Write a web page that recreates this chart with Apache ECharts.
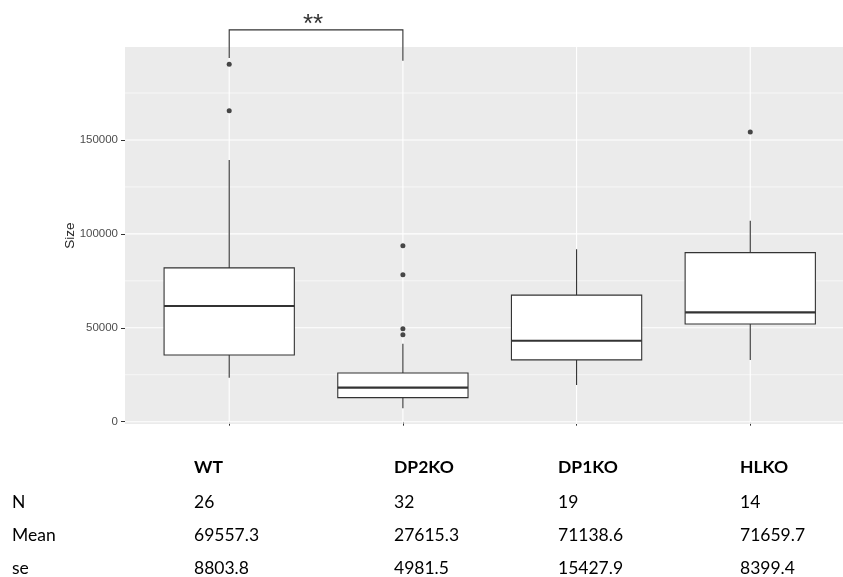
<!DOCTYPE html>
<html>
<head>
<meta charset="utf-8">
<script src="https://cdn.jsdelivr.net/npm/echarts@6/dist/echarts.min.js"></script>
<style>
  html, body { margin: 0; padding: 0; background: #ffffff; }
  #chart { width: 843px; height: 577px; }
</style>
</head>
<body>
<div id="chart"></div>
<script>
// Groups and box statistics (Size)
const categories = ['WT', 'DP2KO', 'DP1KO', 'HLKO'];
const whiskerLow = [23400, 7100, 19500, 32900];
const lowerQuartile = [35500, 12800, 32900, 52000];
const medianValues = [61600, 18100, 43100, 58200];
const upperQuartile = [81900, 25900, 67400, 90000];
const whiskerHigh = [139400, 41500, 91800, 107000];

// Outlying observations per group
const outliersWT = [190300, 165500];
const outliersDP2KO = [93700, 78300, 49500, 46300];
const outliersDP1KO = [];
const outliersHLKO = [154300];

// Axis ticks
const yTickValues = [0, 50000, 100000, 150000];
const yMinorValues = [25000, 75000, 125000, 175000];

// Significance bracket between WT and DP2KO
const bracketGroups = ['WT', 'DP2KO'];
const bracketTop = 208600;
const bracketTipLeft = 193700;
const bracketTipRight = 192200;
const bracketLabel = '**';

// Summary table
const rowLabels = ['N', 'Mean', 'se'];
const nValues = ['26', '32', '19', '14'];
const meanValues = ['69557.3', '27615.3', '71138.6', '71659.7'];
const seValues = ['8803.8', '4981.5', '15427.9', '8399.4'];

const chart = echarts.init(document.getElementById('chart'));

const boxData = categories.map((c, i) => [i + 1, whiskerLow[i], lowerQuartile[i], medianValues[i], upperQuartile[i], whiskerHigh[i]]);
const outlierSets = [outliersWT, outliersDP2KO, outliersDP1KO, outliersHLKO];
const outlierData = [];
outlierSets.forEach((set, i) => set.forEach(v => outlierData.push([i + 1, v])));

const gridLineData = yTickValues.map(v => ['h', v, 1])
  .concat(yMinorValues.map(v => ['h', v, 0]))
  .concat(categories.map((c, i) => ['v', i + 1, 1]));

const LINE = '#333333';
const AXIS_FONT = '"Liberation Sans", Arial, sans-serif';

// Summary table drawn as text below the panel
const colX = [194, 394, 558, 740];
const rowY = [467, 502, 535, 568];
const tableFont = '17.5px Lato, "Open Sans", sans-serif';
const tableBold = 'bold 17.5px Lato, "Open Sans", sans-serif';
const graphics = [];
categories.forEach((c, i) => graphics.push({
  type: 'text', x: colX[i], y: rowY[0],
  style: { text: c, font: tableBold, fill: '#000', verticalAlign: 'middle' }
}));
[nValues, meanValues, seValues].forEach((row, r) => {
  graphics.push({
    type: 'text', x: 12, y: rowY[r + 1],
    style: { text: rowLabels[r], font: tableFont, fill: '#000', verticalAlign: 'middle' }
  });
  row.forEach((v, i) => graphics.push({
    type: 'text', x: colX[i], y: rowY[r + 1],
    style: { text: v, font: tableFont, fill: '#000', verticalAlign: 'middle' }
  }));
});

chart.setOption({
  animation: false,
  grid: {
    left: 125, top: 47, right: 0, height: 377,
    show: true, backgroundColor: '#EBEBEB', borderWidth: 0
  },
  xAxis: {
    // panel runs past the right edge of the page, so the visible range stops short of 4.6
    type: 'value', min: 0.4, max: 4.534,
    axisLine: { show: false },
    axisLabel: { show: false },
    axisTick: { show: true, length: 4, customValues: [1, 2, 3, 4], lineStyle: { color: LINE, width: 1 } },
    splitLine: { show: false }
  },
  yAxis: {
    type: 'value', min: -1225, max: 199500,
    name: 'Size', nameLocation: 'middle', nameGap: 48, nameRotate: 90, nameMoveOverlap: false,
    nameTextStyle: { fontFamily: AXIS_FONT, fontSize: 13.5, color: '#262626' },
    axisLine: { show: false },
    axisTick: { show: true, length: 4, customValues: yTickValues, lineStyle: { color: LINE, width: 1 } },
    axisLabel: {
      customValues: yTickValues, margin: 7,
      formatter: v => String(v),
      fontFamily: AXIS_FONT, fontSize: 11.5, color: '#4D4D4D'
    },
    splitLine: { show: false }
  },
  graphic: graphics,
  series: [
    {
      // panel grid lines
      type: 'custom', silent: true, z: 1,
      data: gridLineData,
      dimensions: ['dir', 'val', 'major'],
      renderItem: function (params, api) {
        const cs = params.coordSys;
        const dir = gridLineData[params.dataIndex][0];
        const val = gridLineData[params.dataIndex][1];
        const major = gridLineData[params.dataIndex][2];
        const w = major ? 1.1 : 0.6;
        if (dir === 'h') {
          const p = api.coord([1, val]);
          return { type: 'line', shape: { x1: cs.x, y1: p[1], x2: cs.x + cs.width, y2: p[1] },
                   style: { stroke: '#FFFFFF', lineWidth: w } };
        }
        const p = api.coord([val, 0]);
        return { type: 'line', shape: { x1: p[0], y1: cs.y, x2: p[0], y2: cs.y + cs.height },
                 style: { stroke: '#FFFFFF', lineWidth: w } };
      }
    },
    {
      // boxes with whiskers and medians
      type: 'custom', z: 3,
      data: boxData,
      encode: { x: 0, y: [1, 2, 3, 4, 5] },
      renderItem: function (params, api) {
        const x = api.value(0);
        const pLow = api.coord([x, api.value(1)]);
        const pQ1 = api.coord([x, api.value(2)]);
        const pMed = api.coord([x, api.value(3)]);
        const pQ3 = api.coord([x, api.value(4)]);
        const pHigh = api.coord([x, api.value(5)]);
        const half = api.size([0.75, 0])[0] / 2;
        const st = { stroke: LINE, lineWidth: 1.1 };
        return {
          type: 'group',
          children: [
            { type: 'line', shape: { x1: pQ3[0], y1: pQ3[1], x2: pHigh[0], y2: pHigh[1] }, style: st },
            { type: 'line', shape: { x1: pQ1[0], y1: pQ1[1], x2: pLow[0], y2: pLow[1] }, style: st },
            { type: 'rect', shape: { x: pQ3[0] - half, y: pQ3[1], width: half * 2, height: pQ1[1] - pQ3[1] },
              style: { fill: '#FFFFFF', stroke: LINE, lineWidth: 1.1 } },
            { type: 'line', shape: { x1: pMed[0] - half, y1: pMed[1], x2: pMed[0] + half, y2: pMed[1] },
              style: { stroke: LINE, lineWidth: 2.2 } }
          ]
        };
      }
    },
    {
      // outliers
      type: 'scatter', z: 4,
      data: outlierData,
      symbol: 'circle', symbolSize: 5,
      itemStyle: { color: '#1a1a1a' }
    },
    {
      // significance bracket
      type: 'custom', z: 5, clip: false,
      data: [[categories.indexOf(bracketGroups[0]) + 1, categories.indexOf(bracketGroups[1]) + 1, bracketTop, bracketTipLeft, bracketTipRight]],
      encode: { x: [0, 1], y: [2, 3, 4] },
      renderItem: function (params, api) {
        const xa = api.value(0), xb = api.value(1);
        const a0 = api.coord([xa, api.value(3)]);
        const a1 = api.coord([xa, api.value(2)]);
        const b1 = api.coord([xb, api.value(2)]);
        const b0 = api.coord([xb, api.value(4)]);
        return {
          type: 'group',
          children: [
            { type: 'polyline', shape: { points: [a0, a1, b1, b0] },
              style: { stroke: LINE, lineWidth: 1.1, fill: null } },
            { type: 'text', x: (a1[0] + b1[0]) / 2 - 3, y: a1[1] + 8,
              style: { text: bracketLabel, font: '26px "Liberation Sans", Arial, sans-serif', fill: LINE,
                       align: 'center', verticalAlign: 'bottom' } }
          ]
        };
      }
    }
  ]
});
</script>
</body>
</html>
